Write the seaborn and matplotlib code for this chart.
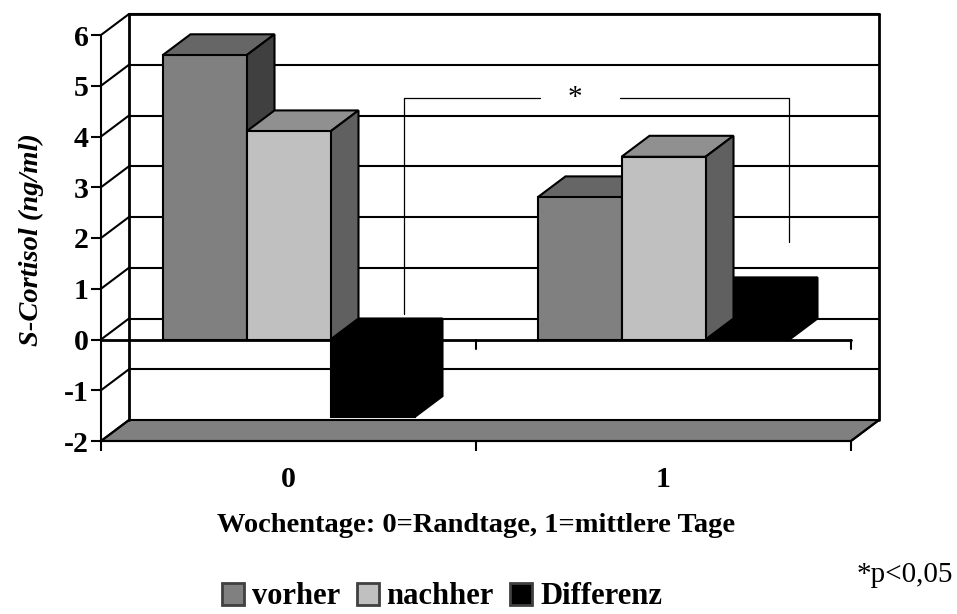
"""plot.py - S-Cortisol bar chart drawn with a fake 3D look."""

import pandas as pd
import matplotlib
matplotlib.use('Agg')
import matplotlib.pyplot as plt
from matplotlib.patches import Polygon
import seaborn as sns

# ---------------------------------------------------------------------------
# Data
# ---------------------------------------------------------------------------

DAYS = ['0', '1']
VORHER = [5.6, 2.8]
NACHHER = [4.1, 3.6]
DIFFERENZ = [-1.53, 0.81]
Y_TICKS = [-2, -1, 0, 1, 2, 3, 4, 5, 6]

# ---------------------------------------------------------------------------
# Layout / style
# ---------------------------------------------------------------------------

W, H = 957, 614
LEFT, RIGHT, TOP, BOTTOM = 101, 851, 35, 441   # front plane, in pixels
DX = 28 / (RIGHT - LEFT) * 2                   # depth offset, data units
DY = 21 / (BOTTOM - TOP) * 8

FRONT = {'vorher': '#808080', 'nachher': '#c0c0c0', 'Differenz': '#000000'}
TOP_FACE = {'vorher': '#666666', 'nachher': '#909090', 'Differenz': '#000000'}
SIDE_FACE = {'vorher': '#404040', 'nachher': '#606060', 'Differenz': '#000000'}
ORDER = {'Differenz': 3, 'vorher': 4, 'nachher': 5}
LW = 1.5


def fx(px):
    return px / W


def fy(py):
    return 1 - py / H


sns.set_theme(style='white')
plt.rcParams['font.family'] = ['Liberation Serif', 'DejaVu Serif']
plt.rcParams['text.color'] = 'black'
plt.rcParams['xtick.color'] = 'black'
plt.rcParams['ytick.color'] = 'black'

df = pd.DataFrame({
    'Tag': DAYS * 3,
    'Wert': VORHER + NACHHER + DIFFERENZ,
    'Gruppe': ['vorher'] * 2 + ['nachher'] * 2 + ['Differenz'] * 2,
})

fig = plt.figure(figsize=(W / 100, H / 100), dpi=100)
ax = fig.add_axes([fx(LEFT), fy(BOTTOM), fx(RIGHT - LEFT), (BOTTOM - TOP) / H])

sns.barplot(data=df, x='Tag', y='Wert', hue='Gruppe', palette=FRONT,
            hue_order=list(FRONT), width=0.672, gap=0, edgecolor='black',
            linewidth=LW, errorbar=None, ax=ax)

ax.set_xlim(-0.5, 1.5)
ax.set_ylim(Y_TICKS[0], Y_TICKS[-1])

# ---------------------------------------------------------------------------
# Walls, floor and grid behind the bars
# ---------------------------------------------------------------------------

x0, x1 = -0.5, 1.5
y_min, y_max = Y_TICKS[0], Y_TICKS[-1]

ax.add_patch(Polygon([(x0, y_min), (x1, y_min), (x1 + DX, y_min + DY), (x0 + DX, y_min + DY)],
                     facecolor='#808080', edgecolor='black', linewidth=LW,
                     clip_on=False, zorder=1))
for level in Y_TICKS:
    ax.plot([x0, x0 + DX], [level, level + DY], color='black', lw=LW,
            clip_on=False, zorder=1)
    if level != y_min:
        ax.plot([x0 + DX, x1 + DX], [level + DY, level + DY], color='black',
                lw=LW, clip_on=False, zorder=1)
ax.plot([x0 + DX, x0 + DX], [y_min + DY, y_max + DY], color='black', lw=2,
        clip_on=False, zorder=1)
ax.plot([x1 + DX, x1 + DX], [y_min + DY, y_max + DY], color='black', lw=2,
        clip_on=False, zorder=1)
ax.plot([x0 + DX, x1 + DX], [y_max + DY, y_max + DY], color='black', lw=2,
        clip_on=False, zorder=1)
ax.plot([x1, x1 + DX], [y_min, y_min + DY], color='black', lw=LW,
        clip_on=False, zorder=1)

# ---------------------------------------------------------------------------
# Depth faces, taken from the bars seaborn drew
# ---------------------------------------------------------------------------

for name, container in zip(FRONT, ax.containers):
    z = ORDER[name]
    for bar in container:
        bar.set_zorder(z + 0.2)
        left = bar.get_x()
        right = left + bar.get_width()
        high = max(bar.get_y(), bar.get_y() + bar.get_height())
        low = min(bar.get_y(), bar.get_y() + bar.get_height())
        ax.add_patch(Polygon([(left, high), (right, high),
                              (right + DX, high + DY), (left + DX, high + DY)],
                             facecolor=TOP_FACE[name], edgecolor='black',
                             linewidth=LW, clip_on=False, zorder=z))
        ax.add_patch(Polygon([(right, low), (right, high),
                              (right + DX, high + DY), (right + DX, low + DY)],
                             facecolor=SIDE_FACE[name], edgecolor='black',
                             linewidth=LW, clip_on=False, zorder=z + 0.1))

# zero line with its own ticks
ax.plot([x0, x1], [0, 0], color='black', lw=2, clip_on=False, zorder=6)
for tick in [0.5, 1.5]:
    ax.plot([tick, tick], [0, -0.19], color='black', lw=LW, clip_on=False, zorder=6)

# ---------------------------------------------------------------------------
# Axes
# ---------------------------------------------------------------------------

sns.despine(ax=ax, top=True, right=True)
for side in ['left', 'bottom']:
    ax.spines[side].set_linewidth(LW)
    ax.spines[side].set_color('black')
    ax.spines[side].set_zorder(7)

ax.set_yticks(Y_TICKS)
ax.set_yticklabels([str(t) for t in Y_TICKS], fontsize=21.5, fontweight='bold')
ax.set_xticks([0, 1])
ax.set_xticklabels(DAYS, fontsize=21.5, fontweight='bold')
ax.set_xticks([-0.5, 0.5, 1.5], minor=True)
ax.tick_params(axis='y', which='major', left=True, length=7, width=LW, pad=2,
               color='black', labelcolor='black')
ax.tick_params(axis='x', which='major', bottom=False, length=0, pad=18, labelcolor='black')
ax.tick_params(axis='x', which='minor', bottom=True, length=7, width=LW, color='black')

ax.set_xlabel('')
ax.set_ylabel('')
fig.text(fx(476), fy(526), 'Wochentage: 0=Randtage, 1=mittlere Tage', ha='center',
         va='center', fontsize=20.5, fontweight='bold')
fig.text(fx(31), fy(240), 'S-Cortisol (ng/ml)', rotation=90, ha='center', va='center',
         fontsize=20.5, fontweight='bold', fontstyle='italic')

# ---------------------------------------------------------------------------
# Significance bracket and note
# ---------------------------------------------------------------------------

for xs, ys in [([404, 404, 540], [314, 98, 98]), ([620, 789, 789], [98, 98, 242])]:
    ax.plot([fx(v) for v in xs], [fy(v) for v in ys], color='black', lw=0.9,
            transform=fig.transFigure, clip_on=False, zorder=8)
fig.text(fx(575), fy(98), '*', ha='center', va='center', fontsize=21)
fig.text(fx(953), fy(575), '*p<0,05', ha='right', va='center', fontsize=21)

# ---------------------------------------------------------------------------
# Legend
# ---------------------------------------------------------------------------

handles, labels = ax.get_legend_handles_labels()
ax.get_legend().remove()
for handle in handles:
    handle.set_linewidth(2)
    handle.set_edgecolor('#404040')
fig.legend(handles, labels, loc='center', bbox_to_anchor=(fx(442), fy(597)), ncol=3,
           frameon=False, prop={'weight': 'bold', 'size': 22}, handlelength=0.72,
           handleheight=0.72, handletextpad=0.25, columnspacing=0.55, borderpad=0)

fig.savefig('out.png', dpi=100)
